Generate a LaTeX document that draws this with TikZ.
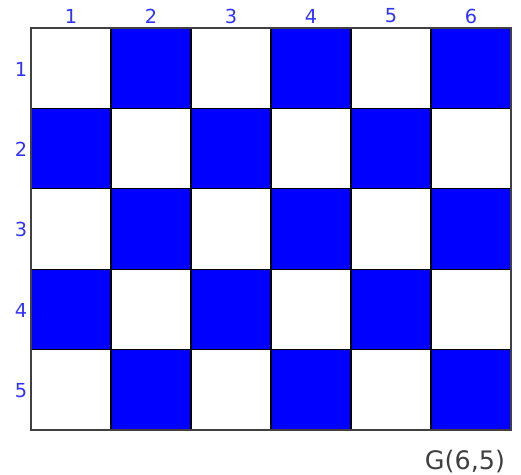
\documentclass[tikz,border=0pt]{standalone}
\usepackage{fontspec}
\setmainfont{DejaVu Sans}
\definecolor{cellblue}{RGB}{0,0,255}
\definecolor{labelblue}{RGB}{50,50,255}
\definecolor{framegray}{RGB}{64,64,64}
\tikzset{numlabel/.style={labelblue, font=\fontsize{11}{13}\selectfont}}
\begin{document}
\begin{tikzpicture}[x=0.02cm, y=-0.02cm]
\useasboundingbox (0,0) rectangle (521,474);
\foreach \c in {1,...,6}
  \foreach \r in {1,...,5} {
    \pgfmathtruncatemacro{\odd}{mod(\c+\r,2)}
    \ifnum\odd=1
      \fill[cellblue] ({31+80*(\c-1)},{28+80.4*(\r-1)}) rectangle ++(80,80.4);
    \fi
  }
\foreach \c in {1,...,5}
  \draw[black, line width=0.6pt] ({31+80*\c},28) -- ({31+80*\c},430);
\foreach \r in {1,...,4}
  \draw[black, line width=0.6pt] (31,{28+80.4*\r}) -- (511,{28+80.4*\r});
\draw[framegray, line width=1.3pt] (31,28) rectangle (511,430);
\foreach \c in {1,...,6}
  \node[numlabel] at ({71+80*(\c-1)},16) {\c};
\foreach \r in {1,...,5}
  \node[numlabel] at (21,{69+80.4*(\r-1)}) {\r};
\node[framegray, font=\fontsize{14.5}{17}\selectfont] (gname) at (465,462) {G(6,5)};
\end{tikzpicture}
\end{document}
